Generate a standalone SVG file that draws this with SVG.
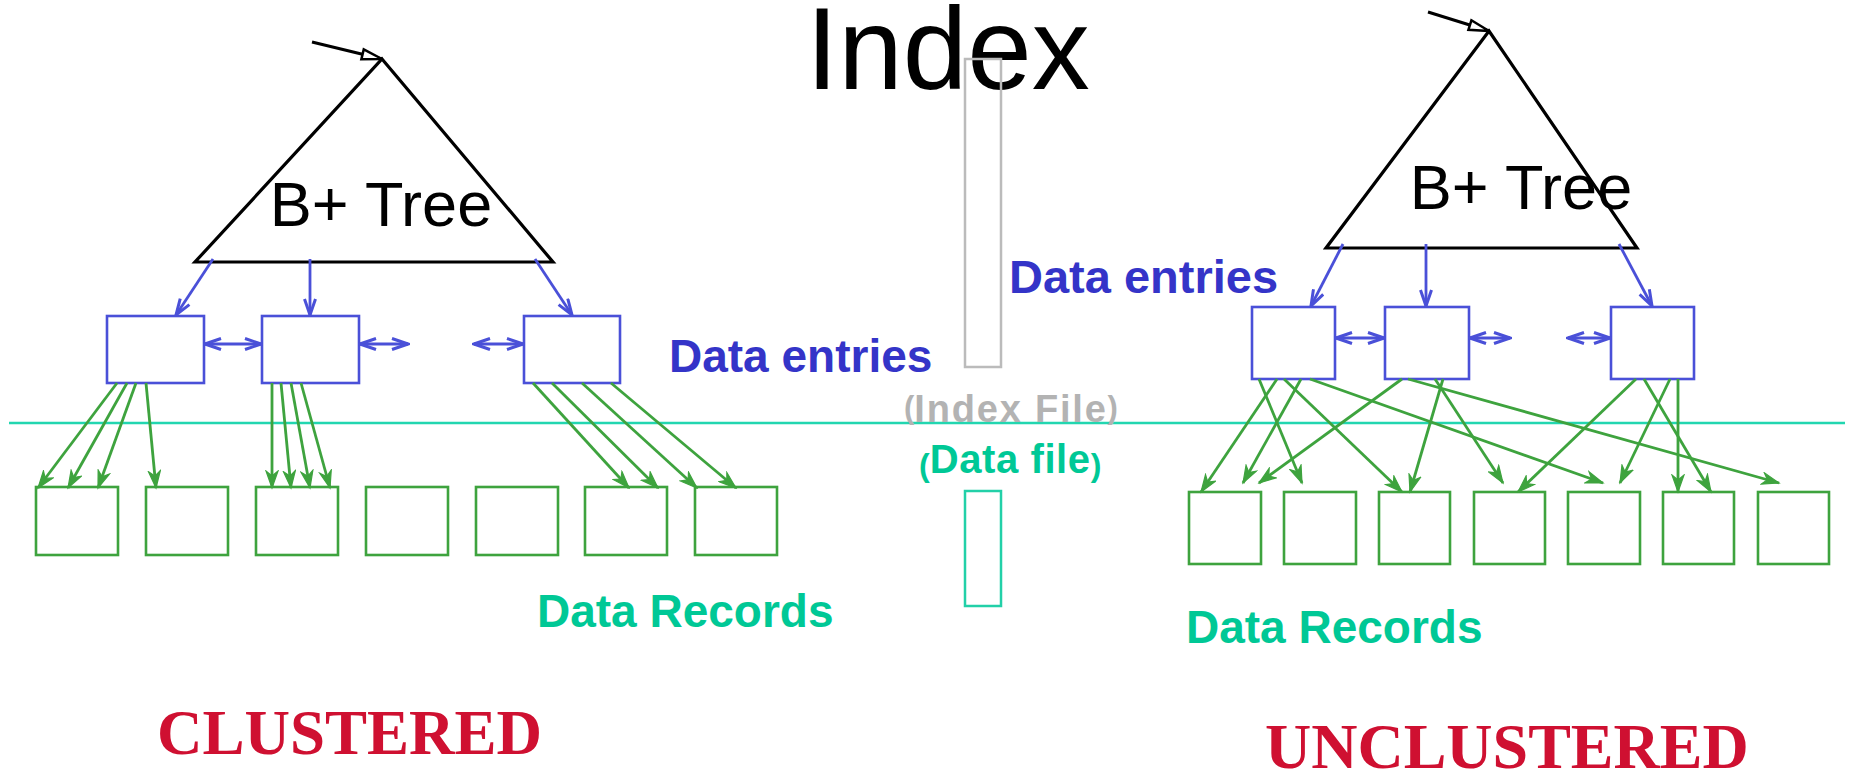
<svg xmlns="http://www.w3.org/2000/svg" width="1853" height="773" viewBox="0 0 1853 773">
<style>
.tri{fill:none;stroke:#000;stroke-width:3.2;stroke-linejoin:miter}
.blue{fill:none;stroke:#4a50d8;stroke-width:2.6}
.grn{fill:none;stroke:#3ea33e;stroke-width:2.6}
.barr{stroke:#4a50d8;stroke-width:2.8;fill:none;marker-end:url(#bh)}
.bdbl{stroke:#4a50d8;stroke-width:2.8;fill:none;marker-end:url(#bh);marker-start:url(#bh)}
.garr{stroke:#3ea33e;stroke-width:2.8;fill:none;marker-end:url(#gh)}
.karr{stroke:#000;stroke-width:3;fill:none;marker-end:url(#kh)}
.sans{font-family:"Liberation Sans",Arial,sans-serif}
.bt{font-family:"Liberation Sans",Arial,sans-serif;font-size:63px;fill:#000}
.de{font-family:"Liberation Sans",Arial,sans-serif;font-weight:bold;fill:#3434c8}
.dr{font-family:"Liberation Sans",Arial,sans-serif;font-weight:bold;font-size:46px;fill:#00c896}
.cl{font-family:"Liberation Serif","Times New Roman",serif;font-weight:bold;fill:#cf1031}
</style>
<defs>
<marker id="bh" markerUnits="userSpaceOnUse" viewBox="0 0 20 14" markerWidth="20" markerHeight="14" refX="18" refY="7" orient="auto-start-reverse">
<path d="M2,1.5 L18,7 L2,12.5" fill="none" stroke="#4a50d8" stroke-width="3" stroke-linejoin="miter"/>
</marker>
<marker id="gh" markerUnits="userSpaceOnUse" viewBox="0 0 20 14" markerWidth="20" markerHeight="14" refX="18" refY="7" orient="auto">
<path d="M1,1 L18,7 L1,13 L6,7 z" fill="#3ea33e" stroke="#3ea33e" stroke-width="1.2" stroke-linejoin="miter"/>
</marker>
<marker id="kh" markerUnits="userSpaceOnUse" viewBox="0 0 24 14" markerWidth="24" markerHeight="14" refX="22" refY="7" orient="auto">
<path d="M2,2 L22,7 L2,12 z" fill="#fff" stroke="#000" stroke-width="2.5"/>
</marker>
</defs>
<rect width="1853" height="773" fill="#fff"/>

<g id="title">
<text class="sans" x="806" y="89" font-size="116" fill="#000">Index</text>
</g>

<g id="index-file-box"><rect x="965" y="59" width="36" height="308" fill="none" stroke="#bbbbbb" stroke-width="2.5"/></g>
<g id="data-file-box"><rect x="965" y="491" width="36" height="115" fill="none" stroke="#22d0a8" stroke-width="2.5"/></g>

<g id="divider"><line x1="9" y1="423" x2="1845" y2="423" stroke="#22d6b0" stroke-width="2.5"/></g>

<g id="left-tree">
<polygon class="tri" points="382,59 553,262 195,262"/>
<text class="bt" x="381" y="226" text-anchor="middle">B+ Tree</text>
</g>
<g id="right-tree">
<polygon class="tri" points="1489,31 1637,248 1326,248"/>
<text class="bt" x="1521" y="209" text-anchor="middle">B+ Tree</text>
</g>

<g id="left-entries">
<rect class="blue" x="107" y="316" width="97" height="67"/>
<rect class="blue" x="262" y="316" width="97" height="67"/>
<rect class="blue" x="524" y="316" width="96" height="67"/>
</g>
<g id="right-entries">
<rect class="blue" x="1252" y="307" width="83" height="72"/>
<rect class="blue" x="1385" y="307" width="84" height="72"/>
<rect class="blue" x="1611" y="307" width="83" height="72"/>
</g>

<g id="left-records">
<rect class="grn" x="36" y="487" width="82" height="68"/>
<rect class="grn" x="146" y="487" width="82" height="68"/>
<rect class="grn" x="256" y="487" width="82" height="68"/>
<rect class="grn" x="366" y="487" width="82" height="68"/>
<rect class="grn" x="476" y="487" width="82" height="68"/>
<rect class="grn" x="585" y="487" width="82" height="68"/>
<rect class="grn" x="695" y="487" width="82" height="68"/>
</g>
<g id="right-records">
<rect class="grn" x="1189" y="492" width="72" height="72"/>
<rect class="grn" x="1284" y="492" width="72" height="72"/>
<rect class="grn" x="1379" y="492" width="71" height="72"/>
<rect class="grn" x="1474" y="492" width="71" height="72"/>
<rect class="grn" x="1568" y="492" width="72" height="72"/>
<rect class="grn" x="1663" y="492" width="71" height="72"/>
<rect class="grn" x="1758" y="492" width="71" height="72"/>
</g>

<g id="connectors">
<line class="karr" x1="312" y1="42" x2="382" y2="59"/>
<line class="karr" x1="1428" y1="12" x2="1489" y2="31"/>

<line class="barr" x1="213" y1="259" x2="176" y2="315"/>
<line class="barr" x1="310" y1="259" x2="310" y2="315"/>
<line class="barr" x1="535" y1="259" x2="572" y2="315"/>
<line class="barr" x1="1343" y1="244" x2="1311" y2="306"/>
<line class="barr" x1="1426" y1="244" x2="1426" y2="306"/>
<line class="barr" x1="1619" y1="244" x2="1652" y2="306"/>

<line class="bdbl" x1="205" y1="344" x2="261" y2="344"/>
<line class="bdbl" x1="360" y1="344" x2="408" y2="344"/>
<line class="bdbl" x1="474" y1="344" x2="523" y2="344"/>
<line class="bdbl" x1="1336" y1="338" x2="1384" y2="338"/>
<line class="bdbl" x1="1470" y1="338" x2="1510" y2="338"/>
<line class="bdbl" x1="1568" y1="338" x2="1610" y2="338"/>

<line class="garr" x1="117" y1="383" x2="38" y2="488"/>
<line class="garr" x1="127" y1="383" x2="68" y2="488"/>
<line class="garr" x1="136" y1="383" x2="98" y2="488"/>
<line class="garr" x1="146" y1="383" x2="156" y2="488"/>
<line class="garr" x1="272" y1="383" x2="272" y2="488"/>
<line class="garr" x1="281" y1="383" x2="291" y2="488"/>
<line class="garr" x1="291" y1="383" x2="310" y2="488"/>
<line class="garr" x1="301" y1="383" x2="330" y2="488"/>
<line class="garr" x1="533" y1="383" x2="629" y2="488"/>
<line class="garr" x1="552" y1="383" x2="658" y2="488"/>
<line class="garr" x1="582" y1="383" x2="697" y2="488"/>
<line class="garr" x1="611" y1="383" x2="736" y2="488"/>

<line class="garr" x1="1277" y1="379" x2="1201" y2="492"/>
<line class="garr" x1="1259" y1="379" x2="1302" y2="483"/>
<line class="garr" x1="1301" y1="379" x2="1243" y2="483"/>
<line class="garr" x1="1284" y1="379" x2="1402" y2="492"/>
<line class="garr" x1="1310" y1="379" x2="1603" y2="483"/>
<line class="garr" x1="1402" y1="379" x2="1259" y2="483"/>
<line class="garr" x1="1443" y1="379" x2="1410" y2="492"/>
<line class="garr" x1="1435" y1="379" x2="1503" y2="483"/>
<line class="garr" x1="1408" y1="379" x2="1779" y2="483"/>
<line class="garr" x1="1636" y1="379" x2="1518" y2="492"/>
<line class="garr" x1="1670" y1="379" x2="1620" y2="483"/>
<line class="garr" x1="1644" y1="379" x2="1711" y2="492"/>
<line class="garr" x1="1678" y1="379" x2="1678" y2="492"/>
</g>

<g id="labels">
<text class="de" x="669" y="372" font-size="46">Data entries</text>
<text class="de" x="1009" y="293" font-size="47">Data entries</text>
<text class="sans" font-weight="bold" fill="#b3b3b3" x="904" y="422"><tspan font-size="31" dy="-4">(</tspan><tspan font-size="38" dy="4" letter-spacing="1.8">Index File</tspan><tspan font-size="31" dy="-4">)</tspan></text>
<text class="sans" font-weight="bold" fill="#00c896" x="919" y="473"><tspan font-size="32" dy="3">(</tspan><tspan font-size="40" dy="-3" letter-spacing="0.6">Data file</tspan><tspan font-size="32" dy="3">)</tspan></text>
<text class="dr" x="537" y="627">Data Records</text>
<text class="dr" x="1186" y="643">Data Records</text>
<text class="cl" x="157" y="754" font-size="63">CLUSTERED</text>
<text class="cl" x="1265" y="768" font-size="64">UNCLUSTERED</text>
</g>
</svg>
